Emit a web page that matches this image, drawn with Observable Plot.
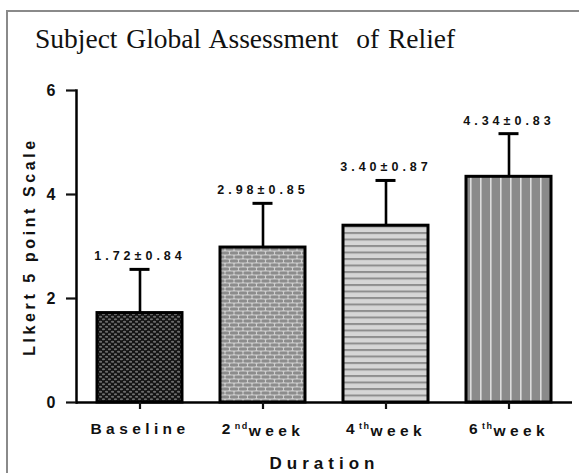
<!DOCTYPE html>
<html>
<head>
<meta charset="utf-8">
<script src="https://cdn.jsdelivr.net/npm/d3@7"></script>
<script src="https://cdn.jsdelivr.net/npm/@observablehq/plot@0.6"></script>
<style>
  html, body { margin: 0; padding: 0; background: #fff; }
  body { position: relative; width: 579px; height: 473px; overflow: hidden; }
  #frame { position: absolute; left: 6px; top: 10px; width: 580px; height: 470px;
           border-left: 2px solid #8a8a8a; border-top: 2px solid #8a8a8a; }
  #title { position: absolute; left: 35px; top: 23px; font-family: "Liberation Serif", "Times New Roman", serif;
           font-size: 27.5px; color: #111; white-space: pre; word-spacing: 2px; }
  #chart { position: absolute; left: 0; top: 63px; }
  #chart svg { font-family: "Liberation Sans", Arial, sans-serif; }
  g[aria-label="x-axis tick label"] text { font-size: 15.5px; font-weight: bold; letter-spacing: 4.4px; }
  g[aria-label="y-axis tick label"] text { font-size: 16px; font-weight: bold; }
  g[aria-label="y-axis label"] text { font-size: 16px; font-weight: bold; letter-spacing: 3.6px; }
  g[aria-label="x-axis label"] text { font-size: 17px; font-weight: bold; letter-spacing: 5px; }
  g.vlabels text { font-size: 12.5px; font-weight: bold; letter-spacing: 4px; }
</style>
</head>
<body>
<div id="frame"></div>
<div id="title">Subject Global Assessment  of Relief</div>
<div id="chart"></div>
<script>
const categories = ["Baseline", "2nd week", "4th week", "6th week"];
const means = [1.72, 2.98, 3.40, 4.34];
const sds = [0.84, 0.85, 0.87, 0.83];
const valueLabels = ["1.72±0.84", "2.98±0.85", "3.40±0.87", "4.34±0.83"];
const patternIds = ["pDots", "pBrick", "pHStripe", "pVStripe"];
const yTicks = [0, 2, 4, 6];

const data = categories.map((c, i) => ({cat: c, mean: means[i], sd: sds[i], label: valueLabels[i], pat: `url(#${patternIds[i]})`}));

const plot = Plot.plot({
  width: 579,
  height: 410,
  marginTop: 27,
  marginBottom: 71,
  marginLeft: 76,
  marginRight: 7,
  style: {background: "transparent", overflow: "visible", color: "#111"},
  x: {domain: categories, paddingInner: 0.31, paddingOuter: 0.166, label: null},
  y: {domain: [0, 6], label: null},
  color: {type: "identity"},
  marks: [
    Plot.barY(data, {x: "cat", y: "mean", fill: "pat", stroke: "#000", strokeWidth: 3}),
    Plot.ruleX(data, {x: "cat", y1: "mean", y2: d => d.mean + d.sd, stroke: "#000", strokeWidth: 2.6}),
    Plot.tickY(data, {x: "cat", y: d => d.mean + d.sd, stroke: "#000", strokeWidth: 3, insetLeft: 32.5, insetRight: 32.5}),
    Plot.text(data, {x: "cat", y: d => d.mean + d.sd, text: "label", dy: -13, fill: "#111", className: "vlabels"}),
    Plot.ruleY([0], {stroke: "#000", strokeWidth: 2.5}),
    Plot.frame({anchor: "left", stroke: "#000", strokeWidth: 2.5}),
    Plot.axisY({ticks: yTicks, tickFormat: d3.format("d"), tickSize: 10, tickPadding: 11, strokeWidth: 2.2,
                label: "LIkert 5 point Scale", labelAnchor: "center", labelArrow: "none", labelOffset: 53}),
    Plot.axisX({tickSize: 7, tickPadding: 13, strokeWidth: 2.2, label: "Duration", labelAnchor: "center",
                labelArrow: "none", labelOffset: 66})
  ]
});

// pattern definitions for the bar fills
const svgNS = "http://www.w3.org/2000/svg";
const defs = document.createElementNS(svgNS, "defs");
defs.innerHTML = `
  <pattern id="pDots" width="6" height="5" patternUnits="userSpaceOnUse">
    <rect width="6" height="5" fill="#141414"/>
    <ellipse cx="1.5" cy="1.2" rx="1.6" ry="1" fill="#6e6e6e"/>
    <ellipse cx="4.5" cy="3.7" rx="1.6" ry="1" fill="#6e6e6e"/>
  </pattern>
  <pattern id="pBrick" width="9" height="8" patternUnits="userSpaceOnUse">
    <rect width="9" height="8" fill="#cfcfcf"/>
    <rect x="0.5" y="0.6" width="8" height="2.8" rx="1.2" fill="#8c8c8c"/>
    <rect x="-4" y="4.6" width="8" height="2.8" rx="1.2" fill="#8c8c8c"/>
    <rect x="5" y="4.6" width="8" height="2.8" rx="1.2" fill="#8c8c8c"/>
  </pattern>
  <pattern id="pHStripe" width="6" height="6.5" patternUnits="userSpaceOnUse">
    <rect width="6" height="6.5" fill="#d6d6d6"/>
    <rect y="0" width="6" height="2" fill="#8e8e8e"/>
  </pattern>
  <pattern id="pVStripe" width="10" height="6" patternUnits="userSpaceOnUse">
    <rect width="10" height="6" fill="#8a8a8a"/>
    <rect x="0" width="1.6" height="6" fill="#dcdcdc"/>
  </pattern>`;
plot.insertBefore(defs, plot.firstChild);

// superscripts on the x tick labels (2nd, 4th, 6th)
d3.select(plot).selectAll('g[aria-label="x-axis tick label"] text').each(function () {
  const t = d3.select(this);
  const s = t.text();
  const m = s.match(/^(\d)(st|nd|rd|th) (.*)$/);
  if (!m) return;
  t.text(null);
  t.append("tspan").text(m[1]);
  t.append("tspan").attr("dy", "-0.45em").style("font-size", "9px").style("letter-spacing", "1.5px").text(m[2]);
  t.append("tspan").attr("dy", "0.45em").text(m[3]);
});

document.getElementById("chart").appendChild(plot);
</script>
</body>
</html>
